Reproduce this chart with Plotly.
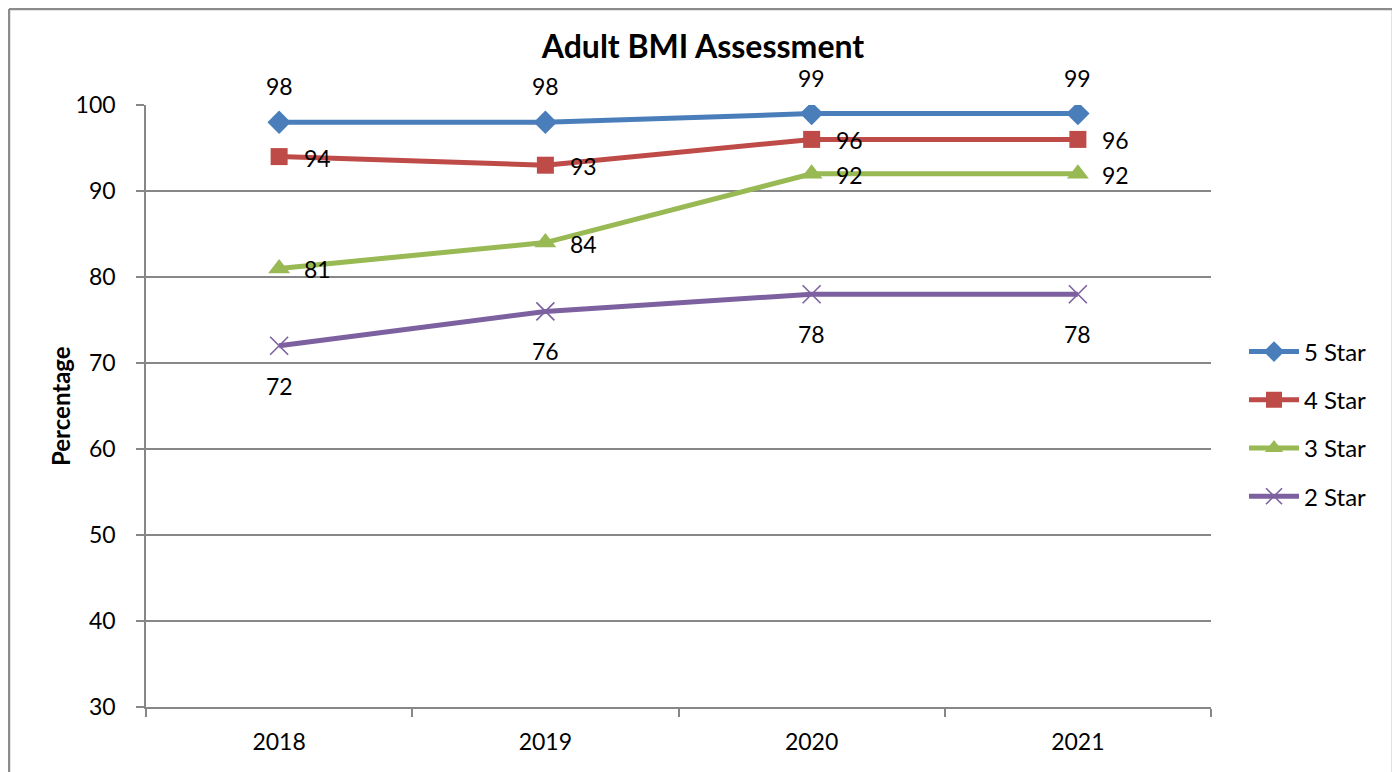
import plotly.graph_objects as go

years = ["2018", "2019", "2020", "2021"]
star5 = [98, 98, 99, 99]
star4 = [94, 93, 96, 96]
star3 = [81, 84, 92, 92]
star2 = [72, 76, 78, 78]

series_names = ["5 Star", "4 Star", "3 Star", "2 Star"]
series_vals = [star5, star4, star3, star2]
colors = ["#4A7EBB", "#BE4B48", "#98B954", "#7D60A0"]
symbols = ["diamond", "square", "triangle-up", "x-thin-open"]
msizes = [18, 17, 19, 18]
label_shift = [(0, 36), (38, -1), (38, -1), (0, -40)]

FONT = "Lato"
W, H = 1400, 772
OFF = 8  # page body margin
L, T = 146 - OFF, 105 - OFF
pw, ph = 1065, 602
R, B = W - L - pw, H - T - ph


def px(fx):
    return (fx - L) / pw


def py(fy):
    return (T + ph - fy) / ph


fig = go.Figure()
for i, (name, vals) in enumerate(zip(series_names, series_vals)):
    mk = dict(symbol=symbols[i], size=msizes[i], color=colors[i])
    if symbols[i] == "x-thin-open":
        mk["line"] = dict(color=colors[i], width=1.6)
    fig.add_trace(go.Scatter(
        x=years, y=vals, name=name, mode="lines+markers",
        line=dict(color=colors[i], width=5),
        marker=mk, legendgroup=name,
    ))

annotations = []
for i, vals in enumerate(series_vals):
    dx, dy = label_shift[i]
    for xi, v in enumerate(vals):
        annotations.append(dict(
            x=xi, y=v, xref="x", yref="y", text=str(v), showarrow=False,
            xshift=dx, yshift=dy, font=dict(family=FONT, size=23, color="black"),
        ))

annotations.append(dict(
    x=px(60 - OFF), y=0.5, xref="paper", yref="paper", text="<b>Percentage</b>",
    xanchor="center", yanchor="middle",
    textangle=-90, showarrow=False, font=dict(family=FONT, size=24, color="black"),
))

RIGHT = 1393 - OFF
border = dict(color="#8C8C8C", width=2.5)
shapes = [
    dict(type="line", xref="paper", yref="paper", x0=px(1), x1=px(1),
         y0=py(1), y1=py(H + 5), line=border, layer="below"),
    dict(type="line", xref="paper", yref="paper", x0=px(1), x1=px(RIGHT),
         y0=py(1), y1=py(1), line=border, layer="below"),
    dict(type="line", xref="paper", yref="paper", x0=px(RIGHT), x1=px(RIGHT),
         y0=py(1), y1=py(H + 5), line=border, layer="below"),
]

fig.update_layout(
    width=W, height=H,
    margin=dict(l=L, r=R, t=T, b=B),
    paper_bgcolor="white", plot_bgcolor="white",
    title=dict(text="<b>Adult BMI Assessment</b>", x=(703 - OFF) / W, xanchor="center",
               y=1 - (47 - OFF) / H, yanchor="middle",
               font=dict(family=FONT, size=32, color="black")),
    font=dict(family=FONT, size=23, color="black"),
    showlegend=True,
    legend=dict(x=(1244 - 146) / pw, xanchor="left", y=(707 - 424) / ph, yanchor="middle",
                font=dict(family=FONT, size=24, color="black"),
                tracegroupgap=14, itemwidth=50, bgcolor="rgba(0,0,0,0)"),
    annotations=annotations,
    shapes=shapes,
)

fig.update_xaxes(
    type="category", range=[-0.5, 3.5], tickson="boundaries",
    ticks="outside", ticklen=8, tickcolor="#878787", tickwidth=1.5,
    showline=True, linecolor="#878787", linewidth=1.5,
    showgrid=False, zeroline=False, ticklabelstandoff=14,
    tickfont=dict(family=FONT, size=23, color="black"),
)
fig.update_yaxes(
    range=[30, 100], dtick=10, tick0=30,
    ticks="outside", ticklen=8, tickcolor="#878787", tickwidth=1.5,
    showline=True, linecolor="#878787", linewidth=1.5,
    showgrid=True, gridcolor="#878787", gridwidth=1.5, zeroline=False,
    ticklabelstandoff=16,
    tickfont=dict(family=FONT, size=23, color="black"),
)

fig.write_html("out.html")
